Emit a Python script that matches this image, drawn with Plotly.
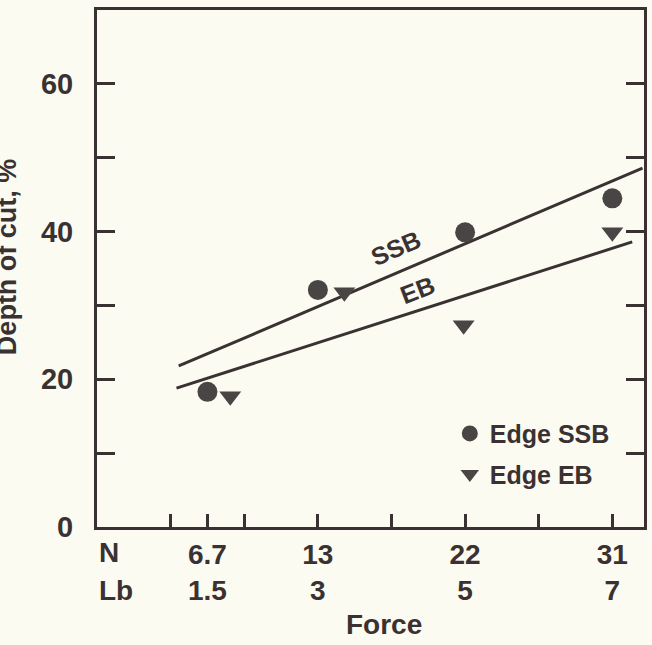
import plotly.graph_objects as go

# Data (x in lb of force, y = depth of cut %)
ssb_x = [1.5, 3.0, 5.0, 7.0]
ssb_y = [18.3, 32.1, 39.9, 44.5]
eb_x = [1.81, 3.36, 4.98, 7.0]
eb_y = [17.7, 31.8, 27.3, 39.9]

# fitted lines (endpoints)
ssb_line_x = [1.11, 7.41]
ssb_line_y = [21.8, 48.6]
eb_line_x = [1.08, 7.27]
eb_line_y = [18.8, 38.6]

x_tickvals = [1, 1.5, 2, 3, 4, 5, 6, 7]
x_ticktext = ["", "6.7<br>1.5", "", "13<br>3", "", "22<br>5", "", "31<br>7"]
y_tickvals = [0, 10, 20, 30, 40, 50, 60]
y_ticktext = ["0", "", "20", "", "40", "", "60"]

INK = "#3a3232"
MARK = "#4a4545"
BG = "#fbfbf2"
FONT = "Liberation Sans"


def bold(t):
    return "" if t == "" else "<b>" + t.replace("<br>", "</b><br><b>") + "</b>"


fig = go.Figure()
fig.add_trace(go.Scatter(x=ssb_line_x, y=ssb_line_y, mode="lines",
                         line=dict(color=INK, width=3), showlegend=False, hoverinfo="skip"))
fig.add_trace(go.Scatter(x=eb_line_x, y=eb_line_y, mode="lines",
                         line=dict(color=INK, width=3), showlegend=False, hoverinfo="skip"))
fig.add_trace(go.Scatter(x=ssb_x, y=ssb_y, mode="markers", name="<b>Edge SSB</b>",
                         marker=dict(symbol="circle", size=20, color=MARK), legendgroup="a"))
fig.add_trace(go.Scatter(x=eb_x, y=eb_y, mode="markers", name="<b>Edge EB</b>",
                         marker=dict(symbol="triangle-down", size=19, color=MARK), legendgroup="b"))

fig.update_layout(
    width=652, height=645,
    margin=dict(l=97, r=5, t=10, b=118),
    paper_bgcolor=BG, plot_bgcolor=BG,
    font=dict(family=FONT, color=INK, size=26),
    legend=dict(x=0.645, y=0.225, xanchor="left", yanchor="top",
                bgcolor="rgba(0,0,0,0)", font=dict(size=25, family=FONT, color=INK),
                tracegroupgap=5, itemwidth=30),
    xaxis=dict(range=[0, 7.43], tickmode="array", tickvals=x_tickvals,
               ticktext=[bold(t) for t in x_ticktext],
               ticks="inside", ticklen=13, tickwidth=3, tickcolor=INK,
               showline=True, linewidth=3, linecolor=INK, mirror=True,
               showgrid=False, zeroline=False,
               tickfont=dict(size=28, family=FONT, color=INK)),
    yaxis=dict(range=[0, 70], tickmode="array", tickvals=y_tickvals,
               ticktext=[bold(t) for t in y_ticktext],
               ticks="inside", ticklen=18, tickwidth=3, tickcolor=INK,
               showline=True, linewidth=3, linecolor=INK, mirror="ticks",
               showgrid=False, zeroline=False, ticklabelstandoff=15,
               tickfont=dict(size=29, family=FONT, color=INK)),
    annotations=[
        dict(text="<b>SSB</b>", x=4.06, y=37.8, xref="x", yref="y", showarrow=False,
             textangle=-23, font=dict(size=25, family=FONT, color=INK)),
        dict(text="<b>EB</b>", x=4.35, y=32.1, xref="x", yref="y", showarrow=False,
             textangle=-21, font=dict(size=25, family=FONT, color=INK)),
        dict(text="<b>N</b>", x=0, y=-0.050, xref="paper", yref="paper", showarrow=False,
             xanchor="left", yanchor="middle", font=dict(size=28, family=FONT, color=INK)),
        dict(text="<b>Lb</b>", x=0, y=-0.122, xref="paper", yref="paper", showarrow=False,
             xanchor="left", yanchor="middle", font=dict(size=28, family=FONT, color=INK)),
        dict(text="<b>Force</b>", x=0.524, y=-0.188, xref="paper", yref="paper", showarrow=False,
             xanchor="center", yanchor="middle", font=dict(size=28, family=FONT, color=INK)),
        dict(text="<b>Depth of cut, %</b>", x=0, y=0.522, xref="paper", yref="paper",
             showarrow=False, textangle=-90, xanchor="center", yanchor="middle", xshift=-90,
             font=dict(size=27, family=FONT, color=INK)),
    ],
)

fig.write_html("out.html")
